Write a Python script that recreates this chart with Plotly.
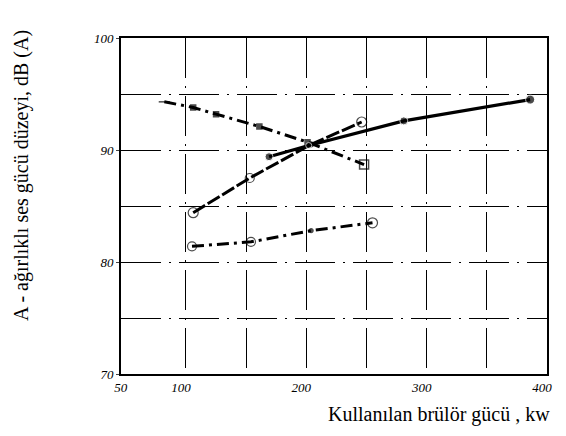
import plotly.graph_objects as go

# Series A: descending (dash-dot, square markers)
a_x = [82, 106, 125, 161, 201, 248]
a_y = [94.3, 93.8, 93.2, 92.1, 90.7, 88.7]
# Series B: rising (open circles)
b_x = [106, 153, 204, 246]
b_y = [84.4, 87.5, 90.5, 92.5]
# Series C: rising (filled circles)
c_x = [169, 202, 281, 386]
c_y = [89.4, 90.4, 92.6, 94.5]
# Series D: low (open circles)
d_x = [105, 154, 204, 255]
d_y = [81.4, 81.8, 82.8, 83.5]

x_ticks = [50, 100, 200, 300, 400]
x_labels = ["50", "100", "200", "300", "400"]
y_ticks = [70, 80, 90, 100]
y_labels = ["70", "80", "90", "100"]
x_grid = [100, 150, 200, 250, 300, 350]
y_grid = [75, 80, 85, 90, 95]
x_title = "Kullanılan brülör gücü , kw"
y_title = "A - ağırlıklı ses gücü düzeyi, dB (A)"

fig = go.Figure()
fig.add_trace(go.Scatter(
    x=a_x, y=a_y, mode="lines+markers",
    line=dict(color="black", width=3, dash="12px,5px,3px,5px"),
    marker=dict(symbol=["line-ew", "square", "square", "square", "square", "square-open"],
                size=[8, 5, 5, 5, 5, 9], color="black",
                line=dict(color="black", width=1.5))))
fig.add_trace(go.Scatter(
    x=b_x, y=b_y, mode="lines+markers",
    line=dict(color="black", width=3, dash="14px,3px"),
    marker=dict(symbol=["circle-open", "circle-open", "circle", "circle-open"],
                size=[10, 9, 5, 10], color="black", line=dict(color="black", width=1.2))))
fig.add_trace(go.Scatter(
    x=c_x, y=c_y, mode="lines+markers",
    line=dict(color="black", width=3.2),
    marker=dict(symbol="circle", size=[8, 6, 8, 9], color="black")))
fig.add_trace(go.Scatter(
    x=d_x, y=d_y, mode="lines+markers",
    line=dict(color="black", width=3, dash="12px,5px,3px,5px"),
    marker=dict(symbol=["circle-open", "circle-open", "circle", "circle-open"],
                size=[9, 9, 4, 10], color="black", line=dict(color="black", width=1.2))))

fnt = "Liberation Serif"
fig.update_layout(
    width=550, height=420,
    margin=dict(l=113, r=6, t=30, b=54),
    paper_bgcolor="white", plot_bgcolor="white",
    showlegend=False,
    font=dict(family=fnt, color="black", size=14),
    xaxis=dict(
        range=[46, 400], tickvals=x_ticks, ticktext=x_labels,
        showgrid=False, zeroline=False, showline=True, linecolor="black",
        linewidth=2, mirror=True, ticks="", ticklen=0, ticklabelshift=-5,
        tickfont=dict(family=fnt, size=13, style="italic"),
        minor=dict(tickvals=x_grid, showgrid=True, gridcolor="black",
                   gridwidth=1.3, griddash="40px,8px,2px,8px"),
    ),
    yaxis=dict(
        range=[70, 100], tickvals=y_ticks, ticktext=y_labels,
        showgrid=False, zeroline=False, showline=True, linecolor="black",
        linewidth=2, mirror=True, ticks="outside", ticklen=3,
        tickfont=dict(family=fnt, size=13, style="italic"),
        minor=dict(tickvals=y_grid, showgrid=True, gridcolor="black",
                   gridwidth=1.3, griddash="40px,8px,2px,8px"),
    ),
    annotations=[
        dict(text=x_title, xref="paper", yref="paper", x=1.012, y=-0.08,
             xanchor="right", yanchor="top", showarrow=False,
             font=dict(family=fnt, size=20)),
        dict(text=y_title, xref="paper", yref="paper", x=-0.232, y=0.59,
             xanchor="center", yanchor="middle", textangle=-90, showarrow=False,
             font=dict(family=fnt, size=20)),
    ],
)
fig.write_html("out.html")
